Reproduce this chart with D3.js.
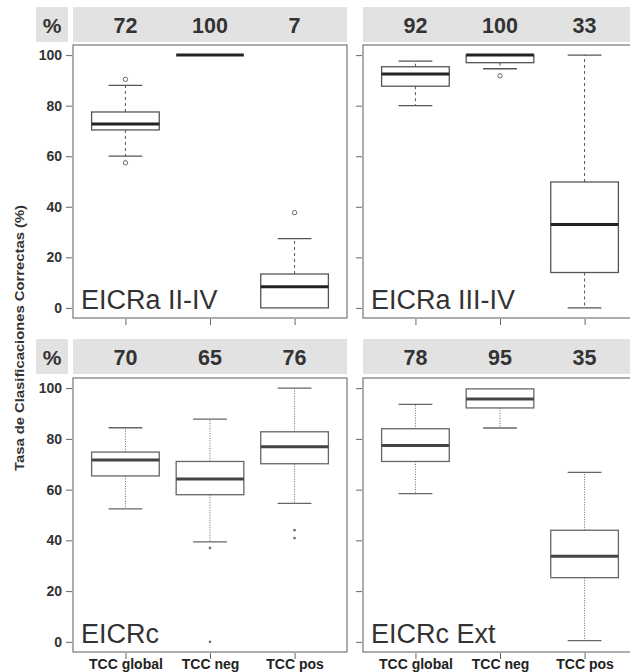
<!DOCTYPE html>
<html>
<head>
<meta charset="utf-8">
<script src="https://d3js.org/d3.v7.min.js"></script>
<style>
  body { margin: 0; background: #fff; }
  text { font-family: "Liberation Sans", Arial, sans-serif; }
</style>
</head>
<body>
<script>
// values
var categories = ["TCC global", "TCC neg", "TCC pos"];
var panelNames = ["EICRa II-IV", "EICRa III-IV", "EICRc", "EICRc Ext"];
var headerValues = [[72, 100, 7], [92, 100, 33], [70, 65, 76], [78, 95, 35]];
var whiskerLow  = [[60, 100, 0], [80, 94.6, 0], [52.4, 39.4, 54.6], [58.4, 84.3, 0.5]];
var q1          = [[70.4, 100, 0], [87.7, 97, 14], [65.4, 58, 70.2], [71.1, 92.2, 25.3]];
var medians     = [[72.7, 100, 8.4], [92.5, 100, 33], [71.7, 64.2, 76.9], [77.4, 95.7, 33.7]];
var q3          = [[77.5, 100, 13.4], [95.4, 100, 49.8], [74.8, 71.1, 82.8], [84, 99.7, 44]];
var whiskerHigh = [[88, 100, 27.4], [97.6, 100, 100], [84.4, 87.8, 100], [93.6, 99.7, 66.8]];
var outliers = [[[90.4, 57.4], [], [37.7]], [[], [91.8], []], [[], [37, 0], [44, 40.9]], [[], [], []]];
var yTicks = [0, 20, 40, 60, 80, 100];

var width = 630, height = 672;
var svg = d3.select("body").append("svg").attr("width", width).attr("height", height);

var cols = [73, 363];           // left edge of each panel
var panelW = 274;
var rows = [{head: 7, top: 45, bottom: 318}, {head: 339, top: 378, bottom: 652}];
var headH = 35;

// y axis title
svg.append("text")
    .attr("transform", "translate(24,338) rotate(-90)")
    .attr("text-anchor", "middle")
    .attr("font-size", "13px").attr("font-weight", "bold").attr("fill", "#333")
    .attr("textLength", 266).attr("lengthAdjust", "spacingAndGlyphs")
    .text("Tasa de Clasificaciones Correctas (%)");

panelNames.forEach(function(name, p) {
    var r = rows[Math.floor(p / 2)], c = Math.floor(p % 2);
    var left = cols[c];
    var x = d3.scaleLinear().domain([0.38, 3.62]).range([left, left + panelW]);
    var y = d3.scaleLinear().domain([-4, 104]).range([r.bottom, r.top]);
    var dotted = p >= 2;
    var g = svg.append("g");

    // header band
    g.append("rect").attr("x", left).attr("y", r.head)
        .attr("width", Math.min(panelW, width - left)).attr("height", headH).attr("fill", "#e2e2e2");
    if (c == 0) {
        g.append("rect").attr("x", 36).attr("y", r.head).attr("width", 32).attr("height", headH).attr("fill", "#e2e2e2");
        g.append("text").attr("x", 52).attr("y", r.head + 26).attr("text-anchor", "middle")
            .attr("font-size", "21px").attr("font-weight", "bold").attr("fill", "#333").text("%");
    }
    g.selectAll(".hv").data(headerValues[p]).enter().append("text")
        .attr("x", function(d, i) { return x(i + 1); })
        .attr("y", r.head + 26)
        .attr("text-anchor", "middle")
        .attr("font-size", "21.5px").attr("font-weight", "bold").attr("fill", "#333")
        .text(function(d) { return d; });

    // frame
    g.append("rect").attr("x", left).attr("y", r.top)
        .attr("width", panelW).attr("height", r.bottom - r.top)
        .attr("fill", "none").attr("stroke", "#777").attr("stroke-width", 1.2);

    // y axis
    var yAxis = d3.axisLeft(y).tickValues(yTicks).tickSize(6).tickFormat(c == 0 ? d3.format("d") : "");
    var ya = g.append("g").attr("transform", "translate(" + (left - 1) + ",0)").call(yAxis);
    ya.select(".domain").remove();
    ya.selectAll("line").attr("stroke", "#666");
    ya.selectAll("text").attr("font-size", "14px").attr("font-weight", "bold").attr("fill", "#333")
        .attr("font-family", "Liberation Sans, Arial, sans-serif").attr("dx", "-1");

    // x axis
    var xAxis = d3.axisBottom(x).tickValues([1, 2, 3]).tickSize(6)
        .tickFormat(function(d) { return p >= 2 ? categories[d - 1] : ""; });
    var xa = g.append("g").attr("transform", "translate(0," + (r.bottom + 1) + ")").call(xAxis);
    xa.select(".domain").remove();
    xa.selectAll("line").attr("stroke", "#666");
    xa.selectAll("text").attr("font-size", "14px").attr("font-weight", "bold").attr("fill", "#222")
        .attr("font-family", "Liberation Sans, Arial, sans-serif").attr("y", 16).attr("dy", 0);

    var bw = 0.8;
    categories.forEach(function(cat, i) {
        var cx = x(i + 1), x0 = x(i + 1 - bw / 2), x1 = x(i + 1 + bw / 2);
        var cap0 = x(i + 1 - bw / 4), cap1 = x(i + 1 + bw / 4);
        var dash = dotted ? "1,1.5" : "3,3";
        var lc = dotted ? "#666" : "#555";
        // whiskers
        if (whiskerHigh[p][i] > q3[p][i]) {
            g.append("line").attr("x1", cx).attr("x2", cx).attr("y1", y(q3[p][i])).attr("y2", y(whiskerHigh[p][i]))
                .attr("stroke", lc).attr("stroke-dasharray", dash).attr("stroke-width", 1);
            g.append("line").attr("x1", cap0).attr("x2", cap1).attr("y1", y(whiskerHigh[p][i])).attr("y2", y(whiskerHigh[p][i]))
                .attr("stroke", lc).attr("stroke-width", 1.3);
        }
        if (whiskerLow[p][i] < q1[p][i]) {
            g.append("line").attr("x1", cx).attr("x2", cx).attr("y1", y(q1[p][i])).attr("y2", y(whiskerLow[p][i]))
                .attr("stroke", lc).attr("stroke-dasharray", dash).attr("stroke-width", 1);
            g.append("line").attr("x1", cap0).attr("x2", cap1).attr("y1", y(whiskerLow[p][i])).attr("y2", y(whiskerLow[p][i]))
                .attr("stroke", lc).attr("stroke-width", 1.3);
        }
        // box
        if (q3[p][i] > q1[p][i]) {
            g.append("rect").attr("x", x0).attr("y", y(q3[p][i]))
                .attr("width", x1 - x0).attr("height", y(q1[p][i]) - y(q3[p][i]))
                .attr("fill", "#fff").attr("stroke", lc).attr("stroke-width", 1.3);
        }
        // median
        g.append("line").attr("x1", x0).attr("x2", x1).attr("y1", y(medians[p][i])).attr("y2", y(medians[p][i]))
            .attr("stroke", dotted ? "#444" : "#222").attr("stroke-width", 3);
        // outliers
        g.selectAll(".o" + i).data(outliers[p][i]).enter().append("circle")
            .attr("cx", cx).attr("cy", function(d) { return y(d); })
            .attr("r", dotted ? 1.4 : 2.2)
            .attr("fill", dotted ? "#777" : "#fff")
            .attr("stroke", dotted ? "none" : "#666").attr("stroke-width", 1);
    });

    // panel label
    g.append("text").attr("x", left + 8).attr("y", y(0) + 1)
        .attr("font-family", "Open Sans, sans-serif").attr("font-size", "27px").attr("fill", "#333")
        .text(name);
});
</script>
</body>
</html>
